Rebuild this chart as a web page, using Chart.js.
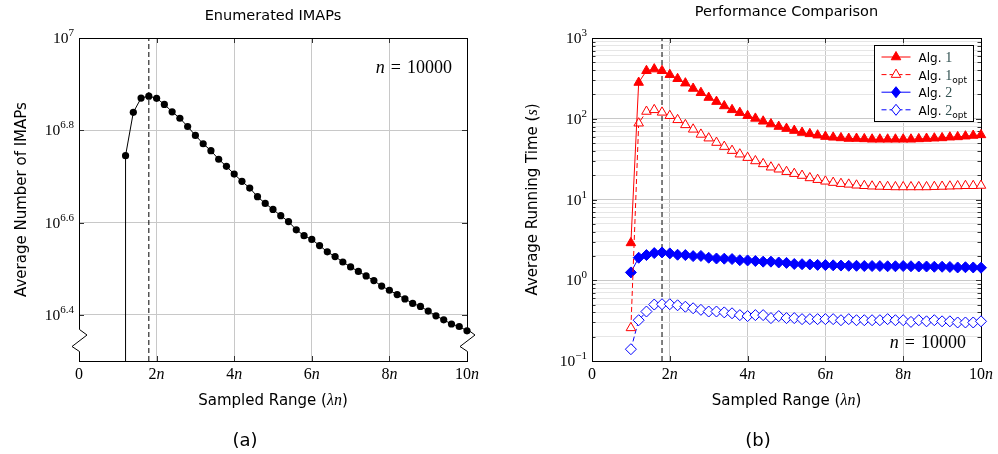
<!DOCTYPE html>
<html>
<head>
<meta charset="utf-8">
<script src="https://cdn.jsdelivr.net/npm/chart.js@4.4.1/dist/chart.umd.min.js"></script>
<style>
html, body { margin: 0; padding: 0; background: #fff; }
#wrap { position: relative; width: 998px; height: 454px; }
canvas { position: absolute; top: 0; }
#chartA { left: 0; }
#chartB { left: 499px; }
</style>
</head>
<body>
<div id="wrap">
  <canvas id="chartA" width="499" height="454"></canvas>
  <canvas id="chartB" width="499" height="454"></canvas>
</div>
<script>
// shared x axis (sampled range, in units of n)
const xTicks = [0, 2, 4, 6, 8, 10];
const markerX = 1.8; // dashed reference line

// (a) enumerated IMAPs
const rangeA = [1.2, 1.4, 1.6, 1.8, 2.0, 2.2, 2.4, 2.6, 2.8, 3.0, 3.2, 3.4, 3.6, 3.8, 4.0,
  4.2, 4.4, 4.6, 4.8, 5.0, 5.2, 5.4, 5.6, 5.8, 6.0, 6.2, 6.4, 6.6, 6.8, 7.0, 7.2, 7.4, 7.6,
  7.8, 8.0, 8.2, 8.4, 8.6, 8.8, 9.0, 9.2, 9.4, 9.6, 9.8, 10.0];
const imaps = [5.56e6, 6.90e6, 7.41e6, 7.48e6, 7.40e6, 7.18e6, 6.92e6, 6.70e6, 6.43e6, 6.15e6,
  5.90e6, 5.70e6, 5.46e6, 5.27e6, 5.07e6, 4.89e6, 4.73e6, 4.53e6, 4.38e6, 4.25e6, 4.12e6,
  4.00e6, 3.84e6, 3.73e6, 3.66e6, 3.55e6, 3.44e6, 3.36e6, 3.27e6, 3.19e6, 3.12e6, 3.05e6,
  2.98e6, 2.90e6, 2.84e6, 2.78e6, 2.72e6, 2.66e6, 2.62e6, 2.56e6, 2.50e6, 2.45e6, 2.40e6,
  2.37e6, 2.32e6];
const imapExp = [6.4, 6.6, 6.8, 7];   // y tick exponents
const imapLimits = [10 ** 6.3, 1e7];
const imapBreak = 2.21e6;            // axis break symbol

// (b) running time
const rangeB = [1.0, 1.2, 1.4, 1.6, 1.8, 2.0, 2.2, 2.4, 2.6, 2.8, 3.0, 3.2, 3.4, 3.6, 3.8, 4.0,
  4.2, 4.4, 4.6, 4.8, 5.0, 5.2, 5.4, 5.6, 5.8, 6.0, 6.2, 6.4, 6.6, 6.8, 7.0, 7.2, 7.4, 7.6,
  7.8, 8.0, 8.2, 8.4, 8.6, 8.8, 9.0, 9.2, 9.4, 9.6, 9.8, 10.0];
const alg1 = [2.9, 281, 393, 412, 393, 351, 313, 276, 237, 210, 183, 163, 144, 129, 119, 109,
  101, 93, 86, 80, 75.5, 71.4, 67.5, 65, 62.6, 60.1, 58.9, 57.9, 56.9, 56.9, 56.3, 55.7, 55.7,
  55.7, 55.7, 55.7, 55.7, 56.3, 56.9, 57.4, 57.9, 59.1, 59.6, 60.8, 62.0, 63.1];
const alg1opt = [0.257, 88, 123, 129, 120, 109, 97, 84, 74, 64, 57.5, 50.7, 45.2, 40.3, 36.4, 33,
  30, 27.6, 25.1, 23.7, 22.1, 20.9, 19.8, 18.5, 17.6, 16.8, 16.2, 15.7, 15.4, 15.0, 14.8, 14.6,
  14.5, 14.4, 14.3, 14.3, 14.3, 14.3, 14.3, 14.4, 14.5, 14.6, 14.7, 14.8, 14.8, 14.9];
const alg2 = [1.25, 1.90, 2.05, 2.17, 2.21, 2.15, 2.07, 2.05, 1.99, 2.0, 1.90, 1.86, 1.85, 1.83,
  1.77, 1.76, 1.73, 1.70, 1.70, 1.66, 1.64, 1.59, 1.58, 1.57, 1.55, 1.54, 1.53, 1.52, 1.51,
  1.51, 1.50, 1.50, 1.50, 1.49, 1.49, 1.50, 1.49, 1.48, 1.48, 1.47, 1.47, 1.46, 1.44, 1.45,
  1.44, 1.43];
const alg2opt = [0.14, 0.32, 0.41, 0.50, 0.505, 0.505, 0.49, 0.47, 0.45, 0.43, 0.41, 0.41, 0.40,
  0.39, 0.37, 0.36, 0.37, 0.37, 0.34, 0.36, 0.34, 0.34, 0.33, 0.33, 0.33, 0.33, 0.33, 0.32,
  0.33, 0.32, 0.32, 0.32, 0.32, 0.33, 0.32, 0.32, 0.305, 0.32, 0.31, 0.32, 0.31, 0.31, 0.30,
  0.30, 0.30, 0.31];
const timeExp = [-1, 0, 1, 2, 3];
const timeLimits = [0.1, 1000];

const SANS = '"DejaVu Sans", sans-serif';
const SERIF = '"Liberation Serif", "DejaVu Serif", serif';
const RED = '#ff0000', BLUE = '#0000ff';

const pts = (xs, ys) => xs.map((x, i) => ({ x: x, y: ys[i] }));
const isDecade = v => Math.abs(Math.log10(v) - Math.round(Math.log10(v))) < 1e-6;

// draw a row of text pieces with different fonts: [text, font, dy, color, gapBefore]
function richText(ctx, parts, x, y, align) {
  let w = 0;
  parts.forEach(p => { ctx.font = p[1]; w += ctx.measureText(p[0]).width + (p[4] || 0); });
  let cx = align === 'center' ? x - w / 2 : (align === 'right' ? x - w : x);
  ctx.textAlign = 'left';
  ctx.textBaseline = 'alphabetic';
  parts.forEach(p => {
    ctx.font = p[1];
    ctx.fillStyle = p[3] || '#000';
    cx += p[4] || 0;
    ctx.fillText(p[0], cx, y + (p[2] || 0));
    cx += ctx.measureText(p[0]).width;
  });
}

function drawMarker(ctx, style, r, x, y, fill, stroke) {
  ctx.beginPath();
  if (style === 'triangle') {
    ctx.moveTo(x, y - r);
    ctx.lineTo(x + r * 0.866, y + r * 0.5);
    ctx.lineTo(x - r * 0.866, y + r * 0.5);
  } else if (style === 'rectRot') {
    ctx.moveTo(x, y - r);
    ctx.lineTo(x + r * 0.8, y);
    ctx.lineTo(x, y + r);
    ctx.lineTo(x - r * 0.8, y);
  } else {
    ctx.arc(x, y, r, 0, Math.PI * 2);
  }
  ctx.closePath();
  ctx.fillStyle = fill;
  ctx.fill();
  ctx.lineWidth = 1;
  ctx.setLineDash([]);
  ctx.strokeStyle = stroke;
  ctx.stroke();
}

// frame, inner ticks, labels and decorations in the pgfplots look
const paperPlugin = {
  id: 'paper',
  beforeDatasetsDraw(chart, args, o) {
    const ctx = chart.ctx, a = chart.chartArea;
    const xs = chart.scales.x, ys = chart.scales.y;
    ctx.save();
    ctx.lineWidth = 1;
    ctx.strokeStyle = '#333';
    ys.ticks.forEach(t => {
      const y = Math.round(ys.getPixelForValue(t.value)) + 0.5;
      const len = isDecade(t.value) || !o.minor ? 5 : 3.5;
      ctx.beginPath();
      ctx.moveTo(a.left, y); ctx.lineTo(a.left + len, y);
      ctx.moveTo(a.right, y); ctx.lineTo(a.right - len, y);
      ctx.stroke();
    });
    xs.ticks.forEach(t => {
      const x = Math.round(xs.getPixelForValue(t.value)) + 0.5;
      ctx.beginPath();
      ctx.moveTo(x, a.bottom); ctx.lineTo(x, a.bottom - 5);
      ctx.moveTo(x, a.top); ctx.lineTo(x, a.top + 5);
      ctx.stroke();
    });
    ctx.strokeStyle = '#000';
    ctx.strokeRect(Math.round(a.left) + 0.5, Math.round(a.top) + 0.5,
      Math.round(a.right - a.left), Math.round(a.bottom - a.top));
    if (o.breakAt) {
      const yb = ys.getPixelForValue(o.breakAt);
      const top = yb - 11, bot = yb + 11;
      [Math.round(a.left) + 0.5, Math.round(a.right) + 0.5].forEach(x => {
        ctx.fillStyle = '#fff';
        ctx.fillRect(x - 1.5, top, 3, bot - top);
        ctx.beginPath();
        ctx.moveTo(x, top);
        ctx.lineTo(x + 7.5, top + 5.5);
        ctx.lineTo(x - 7.5, top + 17);
        ctx.lineTo(x, bot);
        ctx.strokeStyle = '#000';
        ctx.stroke();
      });
    }
    ctx.restore();
  },
  afterDraw(chart, args, o) {
    const ctx = chart.ctx, a = chart.chartArea;
    const xs = chart.scales.x, ys = chart.scales.y;
    const cx = (a.left + a.right) / 2, cy = (a.top + a.bottom) / 2;
    ctx.save();
    // x tick labels: 0, 2n, 4n ...
    xTicks.forEach(v => {
      const x = xs.getPixelForValue(v);
      const parts = v === 0 ? [['0', '16px ' + SERIF]] :
        [[String(v), '16px ' + SERIF], ['n', 'italic 16px ' + SERIF]];
      richText(ctx, parts, x, a.bottom + 18, 'center');
    });
    // y tick labels: 10^e
    o.yExp.forEach(e => {
      const y = ys.getPixelForValue(10 ** e);
      richText(ctx, [['10', '15.5px ' + SERIF],
        [String(e).replace('-', '\u2212'), '11px ' + SERIF, -7]], a.left - 5, y + 5, 'right');
    });
    // titles
    richText(ctx, [[o.title, '14.5px ' + SANS]], cx, o.titleY, 'center');
    richText(ctx, [['Sampled Range (', '15px ' + SANS], ['\u03bbn', 'italic 16px ' + SERIF],
      [')', '15px ' + SANS]], cx, 405, 'center');
    ctx.save();
    ctx.translate(o.yTitleX, cy);
    ctx.rotate(-Math.PI / 2);
    richText(ctx, o.yTitle, 0, 0, 'center');
    ctx.restore();
    // n = 10000 note
    const note = [['n', 'italic 18px ' + SERIF], ['=', '18px ' + SERIF, 0, '#000', 6],
      ['10000', '18px ' + SERIF, 0, '#000', 6]];
    richText(ctx, note, a.right - 15, o.noteTop ? a.top + 35 : a.bottom - 13, 'right');
    // caption
    richText(ctx, [[o.caption, '18px ' + SANS]], o.captionX, 446, 'center');
    // legend
    if (o.legend) {
      const items = chart.data.datasets.filter(d => d.label);
      const bw = 99, bh = 76;
      const bx = Math.round(a.right - 8 - bw) + 0.5, by = Math.round(a.top + 7) + 0.5;
      ctx.fillStyle = '#fff';
      ctx.fillRect(bx, by, bw, bh);
      ctx.strokeStyle = '#000';
      ctx.lineWidth = 1;
      ctx.strokeRect(bx, by, bw, bh);
      items.forEach((d, i) => {
        const y = by + 11.5 + i * 17.6;
        ctx.beginPath();
        ctx.setLineDash(d.borderDash || []);
        ctx.strokeStyle = d.borderColor;
        ctx.moveTo(bx + 7, y); ctx.lineTo(bx + 36, y);
        ctx.stroke();
        drawMarker(ctx, d.pointStyle, d.pointRadius, bx + 21.5, y, d.pointBackgroundColor, d.pointBorderColor);
        const m = d.label.match(/^(.*?)(\d)(?:_(\w+))?$/);
        const parts = [[m[1], '12px ' + SANS], [m[2], '14px ' + SERIF, 0, '#2f4f4f']];
        if (m[3]) parts.push([m[3], '9px ' + SANS, 3]);
        richText(ctx, parts, bx + 44, y + 5, 'left');
      });
    }
    ctx.restore();
  }
};

function noFit(s) { if (s.isHorizontal()) s.height = 0; else s.width = 0; }

// (a)
new Chart(document.getElementById('chartA'), {
  type: 'line',
  data: {
    datasets: [
      {
        data: pts(rangeA, imaps),
        borderColor: '#000', borderWidth: 1,
        pointRadius: 3.6, pointBackgroundColor: '#000', pointBorderWidth: 0,
        clip: false
      },
      {
        data: [{ x: rangeA[0], y: imapLimits[0] }, { x: rangeA[0], y: imaps[0] }],
        borderColor: '#000', borderWidth: 1, pointRadius: 0
      },
      {
        data: [{ x: markerX, y: imapLimits[0] }, { x: markerX, y: imapLimits[1] }],
        borderColor: '#000', borderWidth: 1, borderDash: [5, 3], pointRadius: 0
      }
    ]
  },
  options: {
    responsive: false,
    animation: false,
    layout: { padding: { left: 79, right: 32, top: 38, bottom: 93 } },
    plugins: {
      legend: { display: false },
      tooltip: { enabled: false },
      paper: {
        title: 'Enumerated IMAPs', titleY: 20,
        yExp: imapExp, minor: false, breakAt: imapBreak,
        yTitle: [['Average Number of IMAPs', '15px ' + SANS]], yTitleX: 26,
        noteTop: true, caption: '(a)', captionX: 245
      }
    },
    scales: {
      x: {
        type: 'linear', min: 0, max: 10,
        afterBuildTicks: s => { s.ticks = xTicks.map(v => ({ value: v })); },
        afterFit: noFit,
        ticks: { display: false },
        grid: { color: '#c8c8c8', drawTicks: false },
        border: { display: false }
      },
      y: {
        type: 'logarithmic', min: imapLimits[0], max: imapLimits[1],
        afterBuildTicks: s => { s.ticks = imapExp.map(e => ({ value: 10 ** e })); },
        afterFit: noFit,
        ticks: { display: false },
        grid: { color: '#c8c8c8', drawTicks: false },
        border: { display: false }
      }
    }
  },
  plugins: [paperPlugin]
});

// (b)
new Chart(document.getElementById('chartB'), {
  type: 'line',
  data: {
    datasets: [
      {
        label: 'Alg. 1', data: pts(rangeB, alg1),
        borderColor: RED, borderWidth: 1,
        pointStyle: 'triangle', pointRadius: 5.5,
        pointBackgroundColor: RED, pointBorderColor: RED, pointBorderWidth: 1, clip: false
      },
      {
        label: 'Alg. 1_opt', data: pts(rangeB, alg1opt),
        borderColor: RED, borderWidth: 1, borderDash: [5, 3],
        pointStyle: 'triangle', pointRadius: 5.5,
        pointBackgroundColor: '#fff', pointBorderColor: RED, pointBorderWidth: 1, clip: false
      },
      {
        label: 'Alg. 2', data: pts(rangeB, alg2),
        borderColor: BLUE, borderWidth: 1,
        pointStyle: 'rectRot', pointRadius: 5.5,
        pointBackgroundColor: BLUE, pointBorderColor: BLUE, pointBorderWidth: 1, clip: false
      },
      {
        label: 'Alg. 2_opt', data: pts(rangeB, alg2opt),
        borderColor: BLUE, borderWidth: 1, borderDash: [5, 3],
        pointStyle: 'rectRot', pointRadius: 5.5,
        pointBackgroundColor: '#fff', pointBorderColor: BLUE, pointBorderWidth: 1, clip: false
      },
      {
        data: [{ x: markerX, y: timeLimits[0] }, { x: markerX, y: timeLimits[1] }],
        borderColor: '#000', borderWidth: 1, borderDash: [5, 3], pointRadius: 0
      }
    ]
  },
  options: {
    responsive: false,
    animation: false,
    layout: { padding: { left: 93, right: 17, top: 38, bottom: 93 } },
    plugins: {
      legend: { display: false },
      tooltip: { enabled: false },
      paper: {
        title: 'Performance Comparison', titleY: 16,
        yExp: timeExp, minor: true,
        yTitle: [['Average Running Time (', '15px ' + SANS], ['s', 'italic 16px ' + SERIF],
          [')', '15px ' + SANS]], yTitleX: 38,
        noteTop: false, caption: '(b)', captionX: 259, legend: true
      }
    },
    scales: {
      x: {
        type: 'linear', min: 0, max: 10,
        afterBuildTicks: s => { s.ticks = xTicks.map(v => ({ value: v })); },
        afterFit: noFit,
        ticks: { display: false },
        grid: { color: '#c8c8c8', drawTicks: false },
        border: { display: false }
      },
      y: {
        type: 'logarithmic', min: timeLimits[0], max: timeLimits[1],
        afterBuildTicks: s => {
          const t = [];
          timeExp.forEach((e, i) => {
            const last = i === timeExp.length - 1;
            for (let m = 1; m <= (last ? 1 : 9); m++) t.push({ value: m * 10 ** e });
          });
          s.ticks = t;
        },
        afterFit: noFit,
        ticks: { display: false },
        grid: {
          color: c => (c.tick && isDecade(c.tick.value)) ? '#c8c8c8' : '#e6e6e6',
          drawTicks: false
        },
        border: { display: false }
      }
    }
  },
  plugins: [paperPlugin]
});
</script>
</body>
</html>
